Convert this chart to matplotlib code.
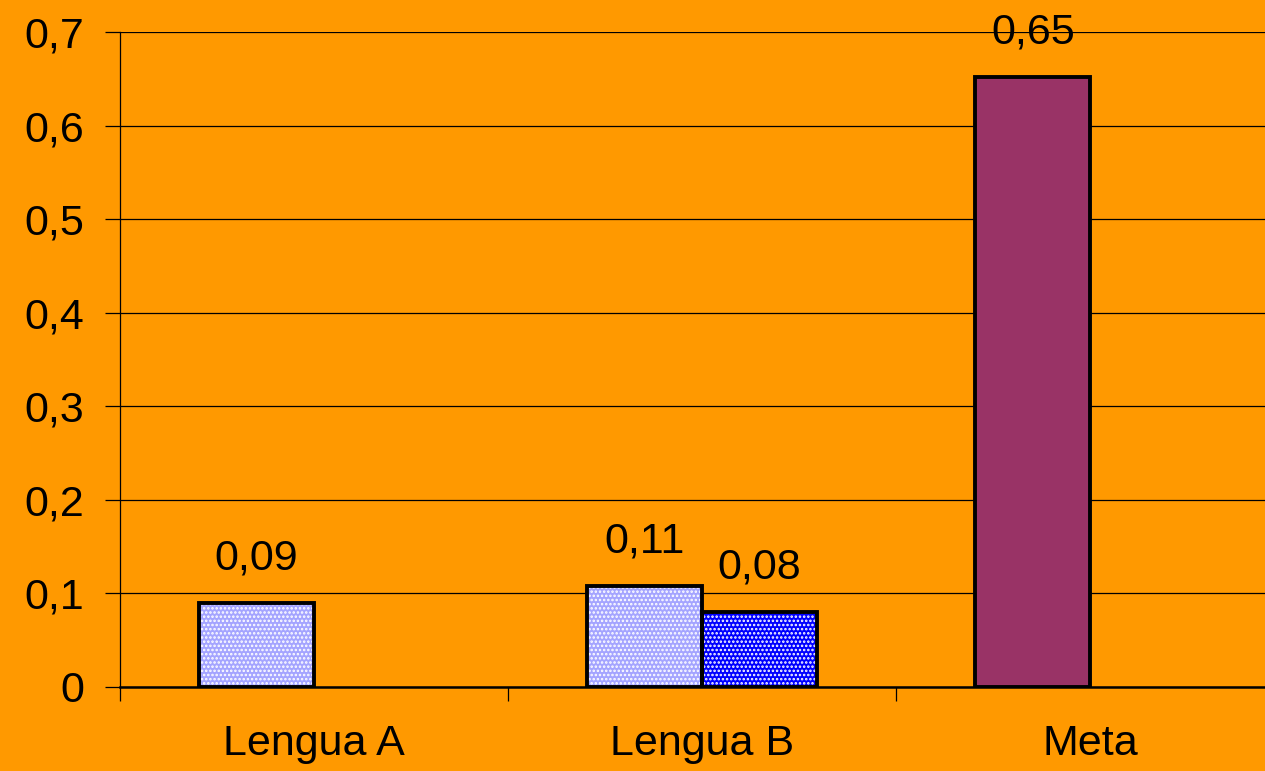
import matplotlib.pyplot as plt
from matplotlib.ticker import FuncFormatter
import numpy as np

plt.rcParams['font.family'] = ['Liberation Sans', 'DejaVu Sans']
plt.rcParams['hatch.linewidth'] = 1.2

categories = ["Lengua A", "Lengua B", "Meta"]
serie_1 = [0.09, 0.108, 0.652]
serie_2 = [None, 0.08, None]
colores_1 = ["#a4a4ff", "#a4a4ff", "#993366"]
patrones_1 = ["....", "....", ""]
colores_2 = ["#0000ff", "#0000ff", "#0000ff"]

naranja = "#ff9900"
ancho = 0.296
x = np.arange(len(categories))
tam = 31

fig = plt.figure(figsize=(12.65, 7.71), dpi=100, facecolor=naranja)
ax = fig.add_axes([0.0949, 0.109, 0.9051, 0.8495])
ax.set_facecolor(naranja)


def coma(v):
    return f"{v:.2f}".replace(".", ",")


def barra(pos, v, color, patron):
    ax.bar(pos, v, ancho, color=color, hatch=patron,
           edgecolor="white", linewidth=0, zorder=3)
    ax.bar(pos, v, ancho, fill=False, edgecolor="black", linewidth=2.8, zorder=4)
    ax.annotate(coma(v), (pos, v), xytext=(0, 24), textcoords="offset points",
                ha="center", va="baseline", fontsize=tam)


for i, v in enumerate(serie_1):
    barra(x[i] - ancho / 2, v, colores_1[i], patrones_1[i])

for i, v in enumerate(serie_2):
    if v is not None:
        barra(x[i] + ancho / 2, v, colores_2[i], "....")

ax.set_ylim(0, 0.7)
ax.set_xlim(-0.5, 2.45)
ax.set_yticks(np.arange(0, 0.71, 0.1))
ax.yaxis.set_major_formatter(FuncFormatter(lambda v, p: "0" if v == 0 else f"{v:.1f}".replace(".", ",")))
ax.yaxis.grid(True, color="black", linewidth=0.9, zorder=1)
ax.set_axisbelow(True)

ax.set_xticks([-0.5, 0.5, 1.5])
ax.set_xticklabels([])
ax.set_xticks(x, minor=True)
ax.set_xticklabels(categories, minor=True, fontsize=tam)
ax.tick_params(axis="x", which="minor", length=0, pad=27)
ax.tick_params(axis="x", which="major", length=10, width=0.9, direction="out")
ax.tick_params(axis="y", length=11, width=0.9, labelsize=tam, pad=15)

for s in ["top", "right"]:
    ax.spines[s].set_visible(False)
ax.spines["left"].set_linewidth(0.9)
ax.spines["bottom"].set_linewidth(1.8)

fig.savefig("out.png", dpi=100, facecolor=naranja)
